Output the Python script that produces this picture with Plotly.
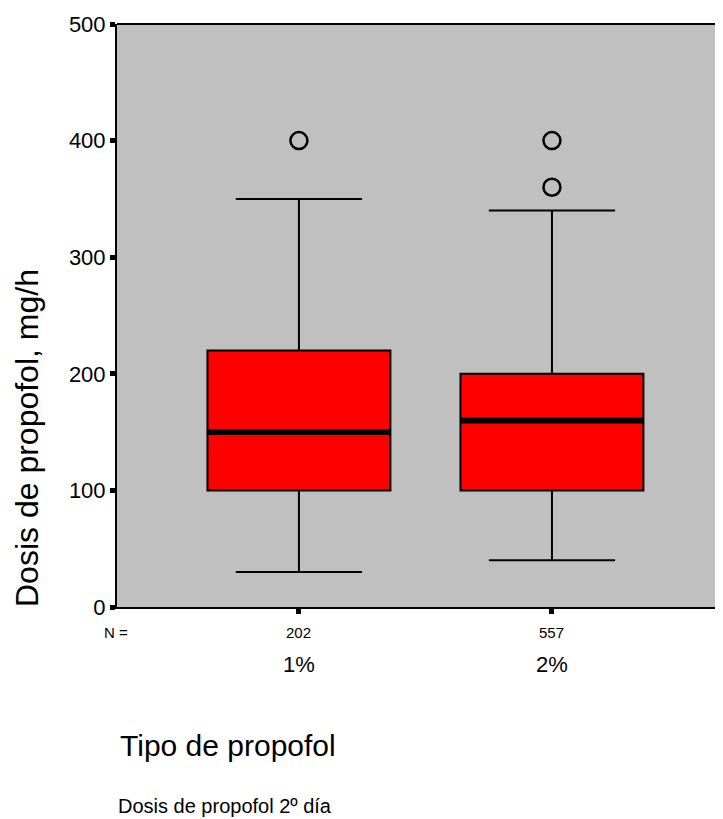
import plotly.graph_objects as go

categories = ["1%", "2%"]
counts = [202, 557]
q1 = [100, 100]
medians = [150, 160]
q3 = [220, 200]
lower_whisker = [30, 40]
upper_whisker = [350, 340]
outliers = [[400], [400, 360]]
y_ticks = [0, 100, 200, 300, 400, 500]

# page has an 8px body margin; figure sized to fill the window from there
OFF = 8
W, H = 723 - OFF, 819 - OFF
L, R, T = 117 - OFF, 0, 24 - OFF
B = H - (607 - OFF)
PW = W - L - R
PH = H - T - B

positions = list(range(len(categories)))
box_w = 0.723
FONT = "Liberation Sans, Arial, sans-serif"

def px_x(p):
    # p: pixel in window coordinates
    return (p - OFF - L) / PW

def px_y(p):
    return (H - B - (p - OFF)) / PH

fig = go.Figure()

for i, cat in enumerate(categories):
    fig.add_trace(go.Box(
        x=[positions[i]], q1=[q1[i]], median=[medians[i]], q3=[q3[i]],
        lowerfence=[lower_whisker[i]], upperfence=[upper_whisker[i]],
        width=box_w, whiskerwidth=0.69, boxpoints=False,
        fillcolor="#FF0000", line=dict(color="black", width=2),
        showlegend=False, name=cat,
    ))
    fig.add_trace(go.Scatter(
        x=[positions[i] - box_w / 2, positions[i] + box_w / 2],
        y=[medians[i], medians[i]], mode="lines",
        line=dict(color="black", width=6), showlegend=False, hoverinfo="skip",
    ))
    fig.add_trace(go.Scatter(
        x=[positions[i]] * len(outliers[i]), y=outliers[i], mode="markers",
        marker=dict(symbol="circle-open", size=17, color="black", line=dict(width=2.5, color="black")),
        showlegend=False, hoverinfo="skip",
    ))

annotations = []
for i, n in enumerate(counts):
    annotations.append(dict(
        x=positions[i], xref="x", y=px_y(632), yref="paper", text=str(n),
        showarrow=False, xanchor="center", yanchor="middle",
        font=dict(family=FONT, size=15, color="black"),
    ))
annotations.append(dict(
    x=px_x(116), xref="paper", y=px_y(632), yref="paper", text="N =",
    showarrow=False, xanchor="center", yanchor="middle",
    font=dict(family=FONT, size=15, color="black"),
))
annotations.append(dict(
    x=px_x(27), xref="paper", y=px_y(438), yref="paper", text="Dosis de propofol, mg/h",
    showarrow=False, xanchor="center", yanchor="middle", textangle=-90,
    font=dict(family=FONT, size=32, color="black"),
))
annotations.append(dict(
    x=px_x(118), xref="paper", y=px_y(745), yref="paper", text="Tipo de propofol",
    showarrow=False, xanchor="left", yanchor="middle",
    font=dict(family=FONT, size=30, color="black"),
))
annotations.append(dict(
    x=px_x(116), xref="paper", y=px_y(806), yref="paper", text="Dosis de propofol 2º día",
    showarrow=False, xanchor="left", yanchor="middle",
    font=dict(family=FONT, size=20, color="black"),
))

fig.update_layout(
    width=W, height=H,
    margin=dict(l=L, r=R, t=T, b=B, pad=0),
    paper_bgcolor="white", plot_bgcolor="#C0C0C0",
    font=dict(family=FONT, color="black"),
    annotations=annotations,
    xaxis=dict(
        range=[-0.719, 1.676], tickvals=positions, ticktext=categories,
        ticks="outside", ticklen=5, tickwidth=5, tickcolor="black",
        showline=True, linecolor="black", linewidth=2,
        showgrid=False, zeroline=False,
        tickfont=dict(family=FONT, size=22, color="black"),
        ticklabelstandoff=32,
    ),
    yaxis=dict(
        range=[0, 500], tickvals=y_ticks,
        ticks="outside", ticklen=5, tickwidth=5, tickcolor="black",
        showline=True, linecolor="black", linewidth=2,
        showgrid=False, zeroline=False,
        tickfont=dict(family=FONT, size=22, color="black"),
    ),
    shapes=[dict(type="line", xref="paper", yref="paper", x0=0, x1=1, y0=1, y1=1,
                 line=dict(color="black", width=2))],
)

fig.write_html("out.html")
